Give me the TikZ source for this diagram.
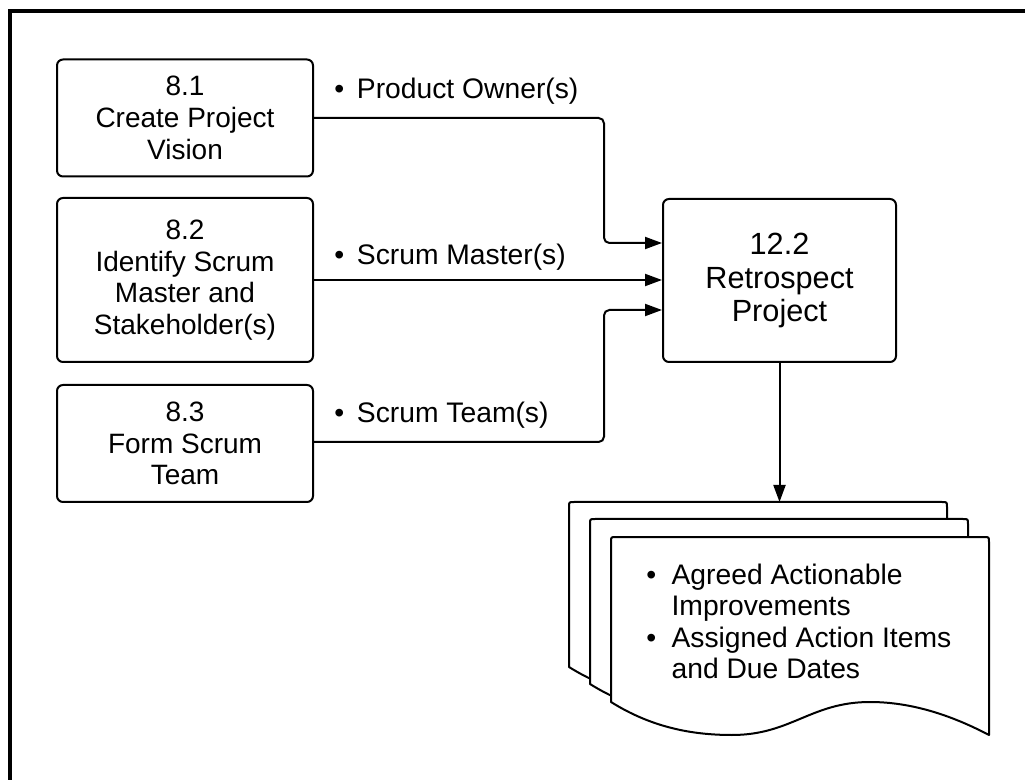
\documentclass[tikz,border=0pt]{standalone}
\usepackage{fontspec}
\setmainfont{Liberation Sans}
\usetikzlibrary{arrows.meta,calc}
\newcommand{\docsheet}[3]{%
  \draw[docshape] (#1,{#2+165}) -- (#1,{#2+5}) .. controls (#1,#2) .. ({#1+5},#2)
    -- ({#3-5},#2) .. controls (#3,#2) .. (#3,{#2+5}) -- (#3,{#2+198})
    .. controls ({#1+340},{#2+178}) and ({#1+300},{#2+165}) .. ({#1+259},{#2+165})
    .. controls ({#1+200},{#2+165}) and ({#1+180},{#2+198}) .. ({#1+121},{#2+198})
    .. controls ({#1+80},{#2+198}) and ({#1+40},{#2+190}) .. (#1,{#2+165}) -- cycle;}
\begin{document}
\begin{tikzpicture}[x=0.75pt,y=-0.75pt,
  proc/.style={draw,line width=1.5pt,rounded corners=4.5pt,align=center,
    minimum width=192pt,inner sep=0pt,font=\fontsize{21}{23.8}\selectfont},
  conn/.style={line width=1.5pt,rounded corners=4pt,
    -{Triangle[length=12.75pt,width=9pt]}},
  lbl/.style={anchor=base west,inner sep=0pt,font=\fontsize{21.2}{23.8}\selectfont},
  docshape/.style={draw,line width=1.5pt,fill=white,line join=round},
  frame/.style={line width=3pt}]
\useasboundingbox (0,0) rectangle (1025,780);
\draw[frame] (1030,11.3) -- (9.8,11.3) -- (9.8,790);

\node[proc,minimum height=87.75pt] (n81) at (185,118) {8.1\\Create Project\\Vision};
\node[proc,minimum height=123pt] (n82) at (185,280) {8.2\\Identify Scrum\\Master and\\Stakeholder(s)};
\node[proc,minimum height=87.75pt] (n83) at (185,443.5) {8.3\\Form Scrum\\Team};
\node[proc,minimum width=174.75pt,minimum height=122.25pt,
  font=\fontsize{23}{24.8}\selectfont] (n122) at (779.5,280.5) {12.2\\Retrospect\\Project};

\node[lbl] (l1) at (334,99) {\makebox[17pt][l]{\textbullet}Product Owner(s)};
\node[lbl] (l2) at (334,265) {\makebox[17pt][l]{\textbullet}Scrum Master(s)};
\node[lbl] (l3) at (334,423) {\makebox[17pt][l]{\textbullet}Scrum Team(s)};

\coordinate (b1) at (604,243);
\coordinate (b3) at (604,310);
\draw[conn] (n81.east) -| (b1) -- (b1 -| n122.west);
\draw[conn] (n82.east) -- (n82.east -| n122.west);
\draw[conn] ($(n83.east)+(0,-1.5)$) -| (b3) -- (b3 -| n122.west);

\docsheet{569}{502}{947}
\docsheet{590}{519}{968}
\docsheet{611}{537}{989}
\coordinate (doctop) at (758,502);
\draw[conn] (n122.south) -- (n122.south |- doctop);

\node[anchor=base west,inner sep=0pt,font=\fontsize{21.2}{23.7}\selectfont] (doctext) at (646,584)
  {\begin{tabular}[t]{@{}l@{}l@{}}
   \makebox[19pt][l]{\textbullet} & Agreed Actionable\\
    & Improvements\\
   \makebox[19pt][l]{\textbullet} & Assigned Action Items\\
    & and Due Dates
   \end{tabular}};
\end{tikzpicture}
\end{document}
